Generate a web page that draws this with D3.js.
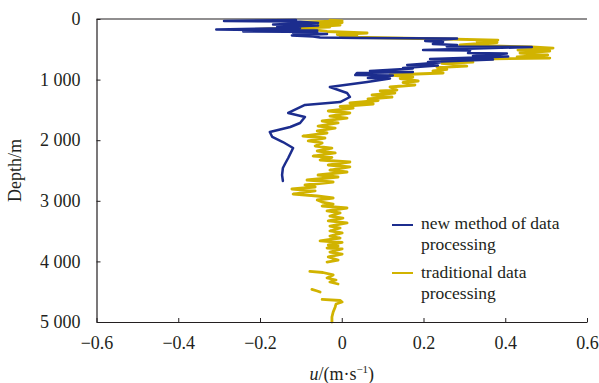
<!DOCTYPE html>
<html>
<head>
<meta charset="utf-8">
<script src="https://cdn.jsdelivr.net/npm/d3@7/dist/d3.min.js"></script>
<style>
  html, body { margin: 0; padding: 0; background: #fff; }
  svg { display: block; }
  svg text { font-family: "Liberation Serif", "Times New Roman", serif !important; fill: #231f20; }
</style>
</head>
<body>
<svg id="chart" width="599" height="383"></svg>
<script>
// Velocity profiles u (m/s) against depth (m)
const newMethodU = [
  -0.112, -0.288, -0.112, -0.058, -0.168, -0.058, -0.158, -0.102, -0.307, -0.060,
  -0.241, -0.060, -0.119, -0.036, -0.122, -0.070, -0.053, 0.045, 0.282, 0.204,
  0.248, 0.223, 0.282, 0.257, 0.465, 0.199, 0.314, 0.309, 0.404, 0.321,
  0.407, 0.216, 0.370, 0.211, 0.240, 0.160, 0.235, 0.150, 0.174, 0.069,
  0.174, 0.037, 0.033, 0.125, 0.064, 0.118, 0.062, -0.029, 0.013, 0.020,
  -0.004, -0.090, -0.131, -0.090, -0.102, -0.126, -0.176, -0.170, -0.144, -0.119,
  -0.131, -0.139, -0.144, -0.146, -0.144
];
const newMethodDepth = [
  17, 33, 41, 66, 91, 107, 132, 149, 173, 190,
  206, 215, 231, 248, 272, 289, 305, 314, 322, 363,
  380, 413, 429, 454, 462, 512, 520, 561, 569, 611,
  619, 660, 668, 710, 718, 759, 767, 809, 817, 858,
  875, 891, 924, 932, 974, 982, 1040, 1122, 1221, 1287,
  1370, 1419, 1551, 1617, 1716, 1782, 1865, 1947, 2030, 2129,
  2294, 2393, 2459, 2574, 2673
];

// null marks a break in the traditional record
const traditionalU = [
  -0.029, 0.001, -0.102, 0.001, -0.058, -0.004, -0.060, -0.029, -0.219, -0.060,
  -0.036, 0.062, -0.011, 0.037, -0.004, 0.253, 0.382, 0.331, 0.380, 0.314,
  0.289, 0.465, 0.517, 0.431, 0.509, 0.436, 0.504, 0.429, 0.509, 0.245,
  0.321, 0.245, 0.306, 0.233, 0.257, 0.223, 0.248, 0.118, 0.174, 0.143,
  0.187, 0.150, 0.179, 0.118, 0.135, 0.094, 0.130, 0.074, 0.123, 0.064,
  0.089, 0.020, 0.077, -0.004, 0.028, -0.033, 0.020, -0.029, 0.013, -0.048,
  -0.009, -0.058, -0.016, -0.060, -0.036, -0.095, -0.041, -0.082, -0.048, -0.065,
  -0.024, -0.060, -0.016, -0.070, -0.024, -0.053, 0.020, -0.033, 0.020, -0.029,
  0.013, -0.058, -0.009, -0.085, -0.021, -0.090, -0.065, -0.122, -0.065, -0.119,
  -0.060, -0.021, -0.060, -0.048, -0.021, -0.048, 0.013, -0.036, -0.004, -0.029,
  0.003, -0.033, 0.013, -0.029, -0.004, -0.029, 0.001, -0.029, -0.004, -0.053,
  0.001, -0.033, -0.009, -0.036, 0.001, -0.029, 0.001, -0.033, -0.009, -0.036,
  null,
  -0.078, -0.046, -0.021, -0.036, -0.014, -0.029, -0.009,
  null,
  -0.073, -0.060, -0.053,
  null,
  -0.048, -0.004, 0.001, -0.014, -0.016, -0.021, -0.024, -0.024
];
const traditionalDepth = [
  17, 33, 50, 58, 83, 99, 124, 132, 173, 182,
  206, 231, 256, 272, 297, 330, 347, 371, 388, 413,
  429, 462, 479, 512, 528, 561, 594, 627, 644, 668,
  710, 734, 776, 800, 833, 858, 891, 924, 957, 982,
  1023, 1048, 1089, 1122, 1172, 1188, 1221, 1254, 1287, 1320,
  1345, 1386, 1403, 1444, 1469, 1518, 1551, 1601, 1634, 1683,
  1716, 1766, 1799, 1848, 1881, 1931, 1964, 2013, 2046, 2096,
  2129, 2178, 2211, 2261, 2285, 2327, 2360, 2409, 2442, 2492,
  2525, 2574, 2607, 2657, 2690, 2739, 2772, 2805, 2838, 2888,
  2921, 2954, 2987, 3020, 3053, 3086, 3119, 3168, 3201, 3251,
  3284, 3333, 3366, 3416, 3449, 3498, 3531, 3581, 3614, 3663,
  3688, 3729, 3746, 3779, 3795, 3845, 3878, 3927, 3977, 4010,
  null,
  4166, 4183, 4224, 4274, 4307, 4340, 4373,
  null,
  4463, 4488, 4505,
  null,
  4628, 4645, 4670, 4703, 4752, 4835, 4917, 5000
];

const xTicks = [-0.6, -0.4, -0.2, 0, 0.2, 0.4, 0.6];
const yTicks = [0, 1000, 2000, 3000, 4000, 5000];
const seriesColors = ["#1c2d8e", "#d1b300"];

const svg = d3.select("#chart");
const plot = { left: 96.5, right: 587, top: 19, bottom: 322 };

const x = d3.scaleLinear().domain([-0.6, 0.6]).range([plot.left, plot.right]);
const y = d3.scaleLinear().domain([0, 5000]).range([plot.top, plot.bottom]);

const fontSize = 18;

// top frame line
svg.append("line")
  .attr("x1", plot.left).attr("x2", plot.right)
  .attr("y1", plot.top).attr("y2", plot.top)
  .attr("stroke", "#231f20").attr("stroke-width", 1.2);

// profiles
const zip = (us, ds) => us.map((u, i) => ({ u, d: ds[i] }));
const line = d3.line()
  .defined(p => p.u != null && p.d != null)
  .x(p => x(p.u)).y(p => y(p.d));

svg.append("path")
  .datum(zip(traditionalU, traditionalDepth))
  .attr("d", line)
  .attr("fill", "none")
  .attr("stroke", seriesColors[1])
  .attr("stroke-width", 2.8)
  .attr("stroke-linejoin", "round")
  .attr("stroke-linecap", "round");

svg.append("path")
  .datum(zip(newMethodU, newMethodDepth))
  .attr("d", line)
  .attr("fill", "none")
  .attr("stroke", seriesColors[0])
  .attr("stroke-width", 2.5)
  .attr("stroke-linejoin", "round")
  .attr("stroke-linecap", "round");

// axes
const fmtX = d3.format(".1f");
const xAxis = d3.axisBottom(x)
  .tickValues(xTicks)
  .tickFormat(d => d === 0 ? "0" : fmtX(d))
  .tickSizeInner(-4).tickSizeOuter(0).tickPadding(14);

const yAxis = d3.axisLeft(y)
  .tickValues(yTicks)
  .tickFormat(d => d3.format(",")(d).replace(/,/g, " "))
  .tickSizeInner(-4).tickSizeOuter(0).tickPadding(16);

const gx = svg.append("g")
  .attr("transform", `translate(0,${plot.bottom})`)
  .call(xAxis);
const gy = svg.append("g")
  .attr("transform", `translate(${plot.left},0)`)
  .call(yAxis);

[gx, gy].forEach(g => {
  g.attr("font-family", null).attr("font-size", null);
  g.selectAll("path.domain").attr("stroke", "#231f20").attr("stroke-width", 1.2);
  g.selectAll(".tick line").attr("stroke", "#231f20").attr("stroke-width", 1);
  g.selectAll(".tick text")
    .attr("font-size", fontSize)
    .attr("fill", "#231f20");
});

// axis titles
const xTitle = svg.append("text")
  .attr("x", x(0))
  .attr("y", 380)
  .attr("text-anchor", "middle")
  .attr("font-size", fontSize);
xTitle.append("tspan").attr("font-style", "italic").text("u");
xTitle.append("tspan").text("/(m·s");
xTitle.append("tspan").attr("font-size", 11).attr("dy", -7).text("−1");
xTitle.append("tspan").attr("dy", 7).text(")");

svg.append("text")
  .attr("transform", `translate(21,${(plot.top + plot.bottom) / 2}) rotate(-90)`)
  .attr("text-anchor", "middle")
  .attr("font-size", fontSize)
  .text("Depth/m");

// legend
const legend = svg.append("g");
const legendRows = [
  { color: seriesColors[0], lineY: 225, lines: ["new method of data", "processing"], baselines: [229, 250] },
  { color: seriesColors[1], lineY: 273, lines: ["traditional data", "processing"], baselines: [278, 299] }
];
legendRows.forEach(r => {
  legend.append("line")
    .attr("x1", 392).attr("x2", 413)
    .attr("y1", r.lineY).attr("y2", r.lineY)
    .attr("stroke", r.color).attr("stroke-width", 2);
  r.lines.forEach((t, i) => {
    legend.append("text")
      .attr("x", 421).attr("y", r.baselines[i])
      .attr("font-size", 17.5)
      .text(t);
  });
});
</script>
</body>
</html>
